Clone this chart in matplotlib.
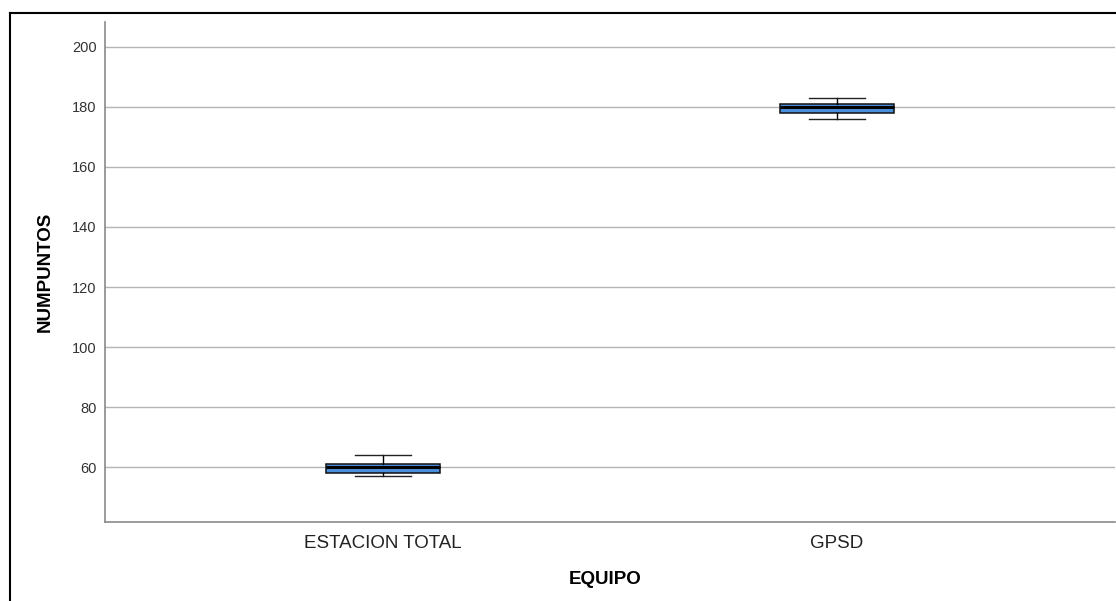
import matplotlib
matplotlib.use("Agg")
import matplotlib.pyplot as plt
from matplotlib.lines import Line2D

plt.rcParams['font.family'] = ['Liberation Sans', 'DejaVu Sans']

categories = ["ESTACION TOTAL", "GPSD"]
whisker_low = [57, 176]
q1 = [58, 178]
median = [60, 180]
q3 = [61, 181]
whisker_high = [64, 183]
y_ticks = [60, 80, 100, 120, 140, 160, 180, 200]

fig = plt.figure(figsize=(11.16, 6.01), dpi=100)
ax = fig.add_axes([105 / 1116, 1 - 522 / 601, 1010 / 1116, 500 / 601])

stats = []
for i, name in enumerate(categories):
    stats.append(dict(label=name, whislo=whisker_low[i], q1=q1[i], med=median[i],
                      q3=q3[i], whishi=whisker_high[i], fliers=[]))

ax.bxp(stats, positions=range(len(categories)), widths=0.25, capwidths=0.125,
       patch_artist=True, showfliers=False,
       boxprops=dict(facecolor="#4a8fdc", edgecolor="#111111", linewidth=1.1),
       medianprops=dict(color="black", linewidth=2.2),
       whiskerprops=dict(color="black", linewidth=1),
       capprops=dict(color="#222222", linewidth=1))

ax.set_xlim(-0.612, 1.612)
ax.set_ylim(41.7, 208.3)
ax.set_yticks(y_ticks)
ax.set_xticks(range(len(categories)))
ax.set_xticklabels(categories, fontsize=13.5, color="#222222")
ax.tick_params(axis='y', labelsize=10.5, colors="#333333", length=0, pad=6)
ax.tick_params(axis='x', length=0, pad=9)
ax.grid(axis='y', color="#b4b4b4", linewidth=1)
ax.set_axisbelow(True)
for side in ["top", "right"]:
    ax.spines[side].set_visible(False)
for side in ["left", "bottom"]:
    ax.spines[side].set_color("#8a8a8a")
    ax.spines[side].set_linewidth(1.2)

ax.set_ylabel("NUMPUNTOS", fontsize=13.5, fontweight="bold")
ax.yaxis.set_label_coords(-(105 - 45) / 1010, 0.5)
ax.set_xlabel("EQUIPO", fontsize=13.5, fontweight="bold")
ax.xaxis.set_label_coords(0.495, -(579 - 522) / 500)
ax.xaxis.label.set_verticalalignment("center")
ax.yaxis.label.set_verticalalignment("center")

# outer frame
fig.add_artist(Line2D([9.5 / 1116, 9.5 / 1116], [0, 1 - 12.5 / 601],
                      transform=fig.transFigure, color="black", linewidth=1.5))
fig.add_artist(Line2D([9.5 / 1116, 1], [1 - 12.5 / 601, 1 - 12.5 / 601],
                      transform=fig.transFigure, color="black", linewidth=1.5))

fig.savefig("out.png", dpi=100)
